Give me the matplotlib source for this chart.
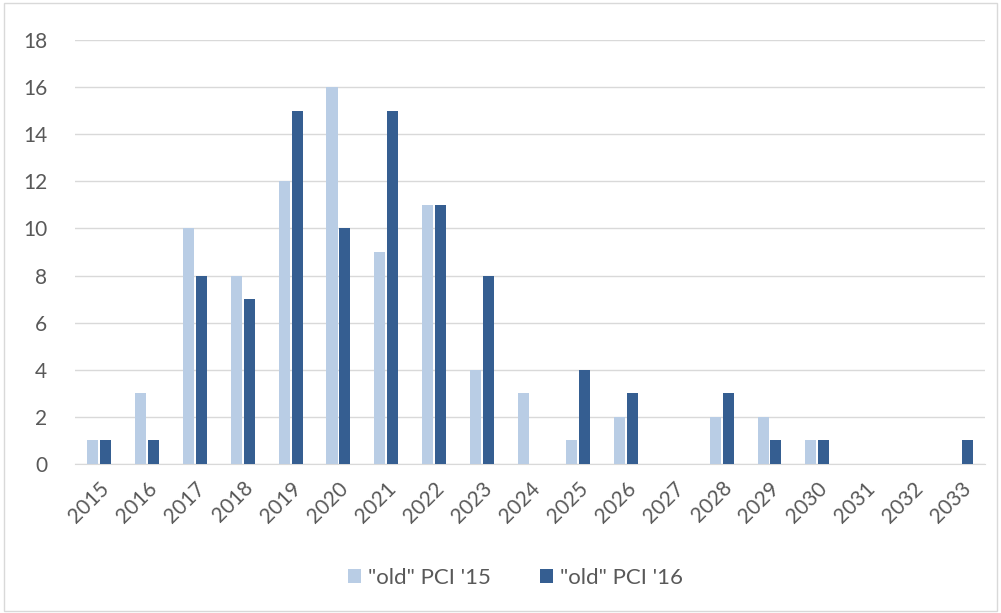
import matplotlib.pyplot as plt
from matplotlib.patches import Rectangle
import numpy as np

years = [str(y) for y in range(2015, 2034)]
pci_15 = [1, 3, 10, 8, 12, 16, 9, 11, 4, 3, 1, 2, 0, 2, 2, 1, 0, 0, 0]
pci_16 = [1, 1, 8, 7, 15, 10, 15, 11, 8, 0, 4, 3, 0, 3, 1, 1, 0, 0, 1]
labels = ['"old" PCI \'15', '"old" PCI \'16']

plt.rcParams['font.family'] = ['Lato', 'DejaVu Sans']
txt = '#595959'

fig = plt.figure(figsize=(10.01, 6.13), dpi=100)
ax = fig.add_axes([0.075, 0.243, 0.909, 0.692])

x = np.arange(len(years))
w = 0.23
ax.bar(x - 0.135, pci_15, w, color='#B9CDE5', label=labels[0], zorder=3)
ax.bar(x + 0.135, pci_16, w, color='#355E91', label=labels[1], zorder=3)

ax.set_xlim(-0.5, len(years) - 0.5)
ax.set_ylim(0, 18)
ax.set_yticks(range(0, 19, 2))
ax.set_xticks(x)
ax.set_xticklabels(years, rotation=45, ha='right', rotation_mode='anchor')
ax.tick_params(axis='both', length=0, labelsize=15, colors=txt)
ax.tick_params(axis='y', pad=20)
ax.tick_params(axis='x', pad=10)
ax.grid(axis='y', color='#D9D9D9', linewidth=1, zorder=0)
for s in ['top', 'right', 'left']:
    ax.spines[s].set_visible(False)
ax.spines['bottom'].set_color('#D9D9D9')

leg = fig.legend(loc='center', bbox_to_anchor=(0.515, 0.057), ncol=2, frameon=False,
                 fontsize=16, handlelength=0.6, handleheight=0.6, columnspacing=2.2,
                 handletextpad=0.3)
for t in leg.get_texts():
    t.set_color(txt)

fig.patches.append(Rectangle((0.004, 0.004), 0.992, 0.991, transform=fig.transFigure,
                             fill=False, edgecolor='#D9D9D9', linewidth=1))

fig.savefig('out.png', dpi=100)
